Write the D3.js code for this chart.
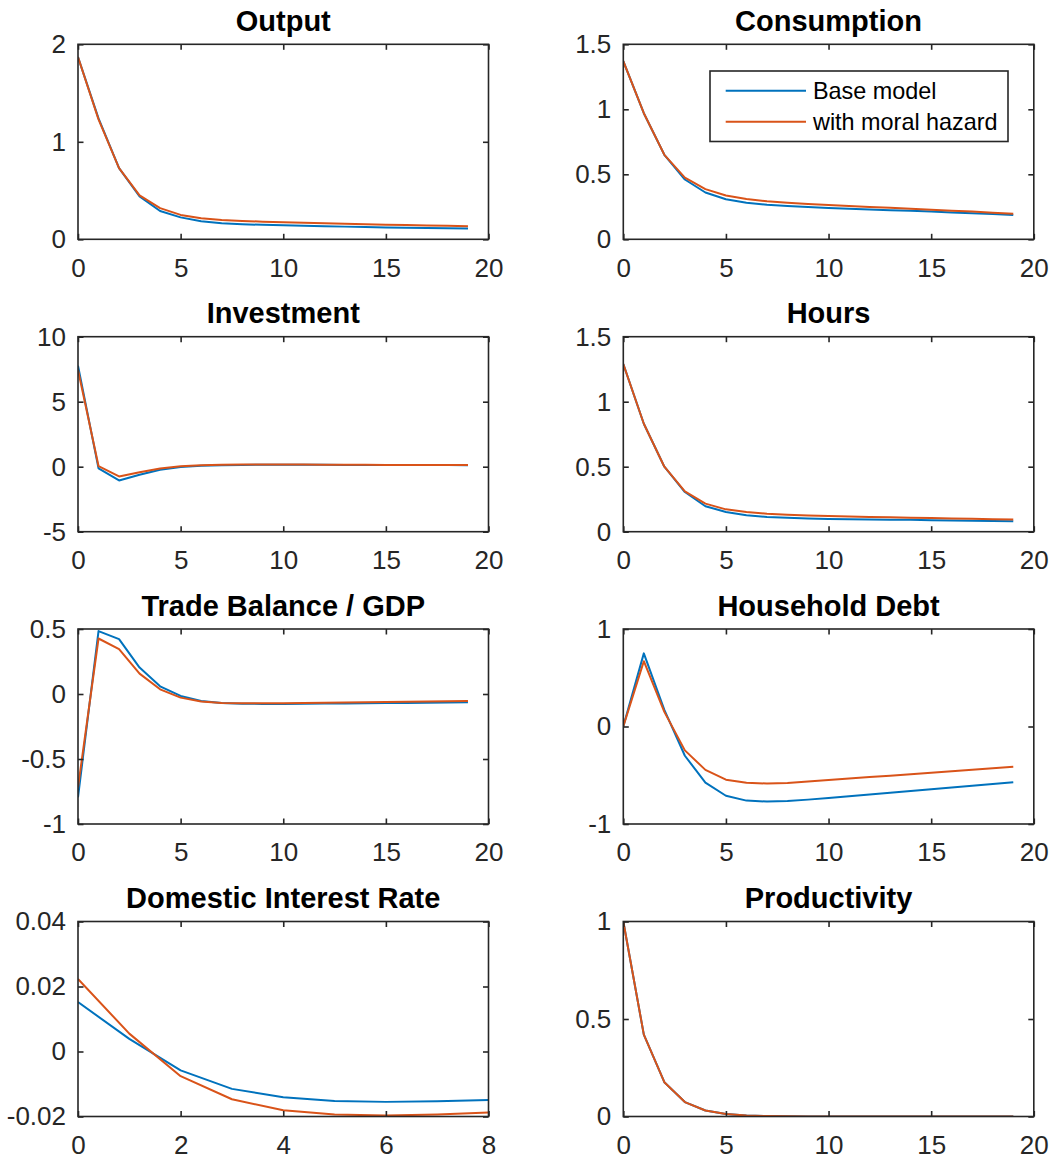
<!DOCTYPE html>
<html>
<head>
<meta charset="utf-8">
<script src="https://cdn.jsdelivr.net/npm/d3@7"></script>
<style>
  html, body { margin: 0; padding: 0; background: #fff; }
  svg { display: block; }
  text { font-family: "Liberation Sans", Arial, Helvetica, sans-serif; }
</style>
</head>
<body>
<svg id="fig" width="1061" height="1161"></svg>
<script>
// ---- impulse responses (quarters after the shock) ----
const seriesNames = ["Base model", "with moral hazard"];

const outputBase = [1.87, 1.24, 0.73, 0.44, 0.29, 0.225, 0.185, 0.165, 0.155, 0.148, 0.143, 0.138, 0.134, 0.13, 0.126, 0.122, 0.119, 0.116, 0.113, 0.11];
const outputMH   = [1.87, 1.23, 0.73, 0.45, 0.32, 0.25, 0.215, 0.198, 0.188, 0.181, 0.175, 0.17, 0.165, 0.16, 0.155, 0.15, 0.146, 0.142, 0.138, 0.134];

const consBase = [1.37, 0.97, 0.65, 0.46, 0.36, 0.308, 0.282, 0.266, 0.256, 0.248, 0.241, 0.235, 0.229, 0.224, 0.219, 0.213, 0.206, 0.2, 0.194, 0.187];
const consMH   = [1.37, 0.97, 0.65, 0.475, 0.386, 0.337, 0.31, 0.293, 0.282, 0.272, 0.264, 0.256, 0.249, 0.242, 0.235, 0.228, 0.22, 0.213, 0.205, 0.197];

const invBase = [7.77, -0.13, -1.06, -0.62, -0.24, -0.03, 0.07, 0.12, 0.14, 0.15, 0.15, 0.15, 0.15, 0.14, 0.14, 0.14, 0.13, 0.13, 0.13, 0.12];
const invMH   = [7.45, 0.05, -0.75, -0.42, -0.14, 0.04, 0.12, 0.15, 0.16, 0.16, 0.16, 0.16, 0.15, 0.15, 0.15, 0.14, 0.14, 0.14, 0.13, 0.13];

const hoursBase = [1.29, 0.83, 0.5, 0.305, 0.196, 0.152, 0.127, 0.114, 0.107, 0.102, 0.098, 0.096, 0.094, 0.092, 0.091, 0.089, 0.087, 0.085, 0.083, 0.08];
const hoursMH   = [1.29, 0.83, 0.5, 0.31, 0.216, 0.172, 0.152, 0.139, 0.131, 0.125, 0.12, 0.117, 0.114, 0.111, 0.108, 0.105, 0.102, 0.099, 0.096, 0.093];

const tbBase = [-0.795, 0.484, 0.422, 0.203, 0.059, -0.015, -0.054, -0.07, -0.075, -0.076, -0.076, -0.075, -0.074, -0.073, -0.072, -0.07, -0.069, -0.067, -0.066, -0.064];
const tbMH   = [-0.718, 0.427, 0.345, 0.157, 0.036, -0.028, -0.058, -0.069, -0.072, -0.072, -0.071, -0.069, -0.068, -0.066, -0.064, -0.062, -0.06, -0.058, -0.056, -0.054];

const debtBase = [0, 0.75, 0.17, -0.3, -0.575, -0.71, -0.76, -0.77, -0.765, -0.75, -0.733, -0.715, -0.697, -0.679, -0.661, -0.643, -0.625, -0.607, -0.589, -0.571];
const debtMH   = [0, 0.67, 0.15, -0.245, -0.445, -0.545, -0.578, -0.585, -0.579, -0.565, -0.549, -0.534, -0.519, -0.504, -0.489, -0.474, -0.459, -0.444, -0.429, -0.414];

const rateBase = [0.0152, 0.0039, -0.0058, -0.0115, -0.0141, -0.0152, -0.0155, -0.0153, -0.0149];
const rateMH   = [0.0223, 0.0055, -0.0076, -0.0147, -0.0181, -0.0194, -0.0197, -0.0194, -0.0188];

const prodBase = [1, 0.42, 0.176, 0.074, 0.031, 0.013, 0.0055, 0.0023, 0.001, 0.0004, 0.0002, 0.0001, 0, 0, 0, 0, 0, 0, 0, 0];
const prodMH   = [1, 0.42, 0.176, 0.074, 0.031, 0.013, 0.0055, 0.0023, 0.001, 0.0004, 0.0002, 0.0001, 0, 0, 0, 0, 0, 0, 0, 0];

// ---- panel titles and axis ticks ----
const titles = ["Output", "Consumption", "Investment", "Hours",
                "Trade Balance / GDP", "Household Debt", "Domestic Interest Rate", "Productivity"];

const xTicks20 = [0, 5, 10, 15, 20];
const xTicks8  = [0, 2, 4, 6, 8];

const yTicksOutput = [0, 1, 2];
const yTicksCons   = [0, 0.5, 1, 1.5];
const yTicksInv    = [-5, 0, 5, 10];
const yTicksHours  = [0, 0.5, 1, 1.5];
const yTicksTB     = [-1, -0.5, 0, 0.5];
const yTicksDebt   = [-1, 0, 1];
const yTicksRate   = [-0.02, 0, 0.02, 0.04];
const yTicksProd   = [0, 0.5, 1];

const yLabelsRate = ["-0.02", "0", "0.02", "0.04"];

// ---- figure layout ----
const colors = ["#0072BD", "#D95319"];
const axColor = "#262626";
const colX = [78, 623.3];
const rowY = [44.3, 336.7, 629, 921.5];
const axW = 410.5, axH = 195;
const tickLen = 5.5;
const fontTick = 26, fontTitle = 29, fontLegend = 23.4;

const panels = [
  { title: titles[0], base: outputBase, mh: outputMH, xTicks: xTicks20, yTicks: yTicksOutput },
  { title: titles[1], base: consBase,   mh: consMH,   xTicks: xTicks20, yTicks: yTicksCons, legend: true },
  { title: titles[2], base: invBase,    mh: invMH,    xTicks: xTicks20, yTicks: yTicksInv },
  { title: titles[3], base: hoursBase,  mh: hoursMH,  xTicks: xTicks20, yTicks: yTicksHours },
  { title: titles[4], base: tbBase,     mh: tbMH,     xTicks: xTicks20, yTicks: yTicksTB },
  { title: titles[5], base: debtBase,   mh: debtMH,   xTicks: xTicks20, yTicks: yTicksDebt },
  { title: titles[6], base: rateBase,   mh: rateMH,   xTicks: xTicks8,  yTicks: yTicksRate, yLabels: yLabelsRate },
  { title: titles[7], base: prodBase,   mh: prodMH,   xTicks: xTicks20, yTicks: yTicksProd }
];

const svg = d3.select("#fig");
const fmt = d => String(d);

panels.forEach((p, i) => {
  const col = i % 2, row = Math.floor(i / 2);
  const g = svg.append("g").attr("transform", `translate(${colX[col]},${rowY[row]})`);

  const x = d3.scaleLinear()
    .domain([p.xTicks[0], p.xTicks[p.xTicks.length - 1]])
    .range([0, axW]);
  const y = d3.scaleLinear()
    .domain([p.yTicks[0], p.yTicks[p.yTicks.length - 1]])
    .range([axH, 0]);

  const clipId = "clip" + i;
  g.append("clipPath").attr("id", clipId)
    .append("rect").attr("x", 0).attr("y", 0).attr("width", axW).attr("height", axH);

  // response lines
  const line = d3.line().x((d, k) => x(k)).y(d => y(d));
  [p.base, p.mh].forEach((s, k) => {
    g.append("path")
      .datum(s)
      .attr("clip-path", `url(#${clipId})`)
      .attr("fill", "none")
      .attr("stroke", colors[k])
      .attr("stroke-width", 2)
      .attr("stroke-linejoin", "round")
      .attr("d", line);
  });

  const yLab = p.yLabels ? (d => p.yLabels[p.yTicks.indexOf(d)]) : fmt;

  // bottom axis with labels, ticks pointing inward
  const gb = g.append("g").attr("transform", `translate(0,${axH})`)
    .call(d3.axisBottom(x).tickValues(p.xTicks).tickFormat(fmt)
      .tickSizeInner(-tickLen).tickSizeOuter(0).tickPadding(19));
  // left axis with labels
  const gl = g.append("g")
    .call(d3.axisLeft(y).tickValues(p.yTicks).tickFormat(yLab)
      .tickSizeInner(-tickLen).tickSizeOuter(0).tickPadding(12));
  // top and right: tick marks only
  const gt = g.append("g")
    .call(d3.axisTop(x).tickValues(p.xTicks).tickFormat("")
      .tickSizeInner(-tickLen).tickSizeOuter(0));
  const gr = g.append("g").attr("transform", `translate(${axW},0)`)
    .call(d3.axisRight(y).tickValues(p.yTicks).tickFormat("")
      .tickSizeInner(-tickLen).tickSizeOuter(0));

  [gb, gl, gt, gr].forEach(a => {
    a.select(".domain").remove();
    a.selectAll(".tick line").attr("stroke", axColor).attr("stroke-width", 1.6);
    a.selectAll(".tick text")
      .attr("fill", axColor)
      .style("font-size", fontTick + "px")
      .style("font-family", '"Liberation Sans", Arial, sans-serif');
  });

  // axes box
  g.append("rect")
    .attr("x", 0).attr("y", 0).attr("width", axW).attr("height", axH)
    .attr("fill", "none").attr("stroke", axColor).attr("stroke-width", 1.6);

  // title
  g.append("text")
    .attr("x", axW / 2).attr("y", -13.5)
    .attr("text-anchor", "middle")
    .attr("fill", "#000")
    .style("font-size", fontTitle + "px")
    .style("font-weight", "bold")
    .text(p.title);

  // legend
  if (p.legend) {
    const lg = g.append("g").attr("transform", `translate(${710 - colX[col]},${71 - rowY[row]})`);
    lg.append("rect")
      .attr("x", 0).attr("y", 0).attr("width", 298).attr("height", 70.5)
      .attr("fill", "#fff").attr("stroke", axColor).attr("stroke-width", 1.6);
    seriesNames.forEach((name, k) => {
      const yy = 19.7 + k * 31;
      lg.append("line")
        .attr("x1", 15.7).attr("x2", 96).attr("y1", yy).attr("y2", yy)
        .attr("stroke", colors[k]).attr("stroke-width", 2);
      lg.append("text")
        .attr("x", 103).attr("y", yy).attr("dy", "0.35em")
        .attr("fill", "#000")
        .style("font-size", fontLegend + "px")
        .text(name);
    });
  }
});
</script>
</body>
</html>
